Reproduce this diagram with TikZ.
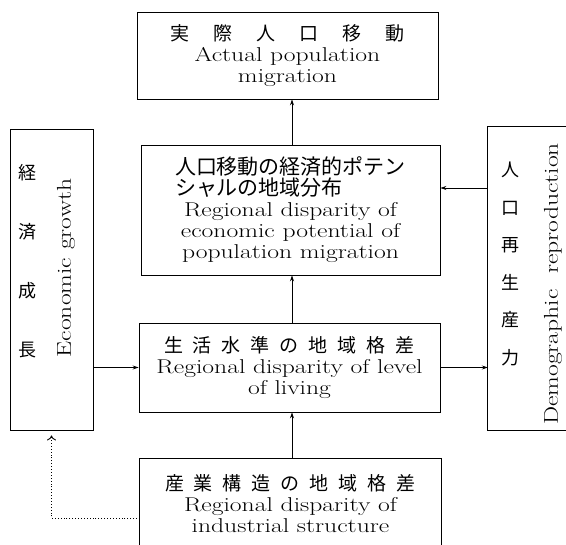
\documentclass[tikz,border=0pt]{standalone}
\usepackage{fontspec}
\usepackage{graphicx}
\newfontfamily\jp{Noto Sans CJK JP}
\usetikzlibrary{arrows.meta,calc}
\newcommand\ensty{\fontsize{20}{21}\selectfont}
\newcommand\W[1]{\scalebox{1.28}[1]{#1}}
\begin{document}
\begin{tikzpicture}[x=1pt,y=-1pt,
  box/.style={draw, line width=0.9pt, inner sep=0pt, align=center, font=\ensty},
  open/.style={inner sep=0pt, align=center, font=\ensty},
  txt/.style={inner sep=0pt, align=center, font=\ensty},
  conn/.style={line width=0.7pt, -{Stealth[length=6pt,width=4pt]}},
  dotconn/.style={line width=0.9pt, dotted, -{To[length=5pt,width=9pt,line width=0.9pt]}, shorten >=5pt},
  side/.style={line width=0.9pt},
]
\useasboundingbox (0,0) rectangle (566,545);
\coordinate (ax) at (292,0);

% top box
\node[box, minimum width=301pt, minimum height=87pt] (top) at (287.5,55.5)
 {{\jp\fontsize{19}{22}\selectfont 実\hspace{24pt}際\hspace{24pt}人\hspace{24pt}口\hspace{24pt}移\hspace{24pt}動}\\
  \W{Actual population}\\ \W{migration}};

% potential box
\node[box, minimum width=299pt, minimum height=130pt] (pot) at (290.5,210)
 {{\jp\fontsize{21}{20}\selectfont 人口移動の経済的ポテン}\\
  {\jp\fontsize{21}{20}\selectfont\makebox[11em][l]{シャルの地域分布}}\\
  \W{Regional disparity of}\\ \W{economic potential of}\\ \W{population migration}};

% living box
\node[box, minimum width=301pt, minimum height=89pt] (liv) at (289.5,367.5)
 {{\jp\fontsize{19}{22}\selectfont 生\hspace{10pt}活\hspace{10pt}水\hspace{10pt}準\hspace{10pt}の\hspace{10pt}地\hspace{10pt}域\hspace{10pt}格\hspace{10pt}差}\\
  \W{Regional disparity of level}\\ \W{of living}};

% bottom box (open at the bottom)
\node[open, minimum width=301pt, minimum height=89pt] (bot) at (290.5,503.5)
 {{\jp\fontsize{19}{22}\selectfont 産\hspace{10pt}業\hspace{10pt}構\hspace{10pt}造\hspace{10pt}の\hspace{10pt}地\hspace{10pt}域\hspace{10pt}格\hspace{10pt}差}\\
  \W{Regional disparity of}\\ \W{industrial structure}};
\draw[side] (bot.south west) |- (bot.north east) -- (bot.south east);

% left box
\node[box, minimum width=83pt, minimum height=301pt] (left) at (51.5,279.5) {};
\node[txt, font=\jp\fontsize{18}{59}\selectfont] (leftjp) at (27,261.5) {経\\済\\成\\長};
\node[txt, rotate=90] (leften) at (66,268) {\W{Economic growth}};

% right box (open at the right)
\node[open, minimum width=90pt, minimum height=303pt] (rb) at (533,278.5) {};
\draw[side] (rb.north east) -| (rb.south west) -- (rb.south east);
\node[txt, font=\jp\fontsize{18}{37.6}\selectfont] (rightjp) at (510,264) {人\\口\\再\\生\\産\\力};
\node[txt, rotate=90] (righten) at (553,284) {\W{Demographic\hspace{12pt}reproduction}};

% connectors
\draw[conn] (ax |- pot.north) -- (ax |- top.south);
\draw[conn] (ax |- liv.north) -- (ax |- pot.south);
\draw[conn] (ax |- bot.north) -- (ax |- liv.south);
\draw[conn] (left.east |- liv.center) -- (liv.west);
\draw[conn] (liv.east) -- (rb.west |- liv.east);
\draw[conn] (rb.west |- 0,188) -- (pot.east |- 0,188);
\draw[dotconn] (bot.west |- 0,518) -| (left.south);
\end{tikzpicture}
\end{document}
